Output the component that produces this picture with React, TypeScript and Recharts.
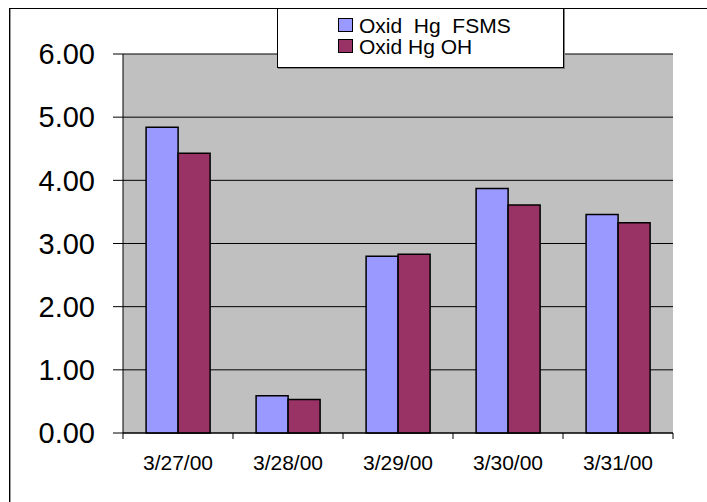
import React from 'react';
import { BarChart, Bar, XAxis, YAxis, CartesianGrid, Legend } from 'recharts';

const dates = ['3/27/00', '3/28/00', '3/29/00', '3/30/00', '3/31/00'];
const fsmsValues = [4.84, 0.59, 2.8, 3.87, 3.46];
const ohValues = [4.43, 0.53, 2.83, 3.61, 3.33];
const yTicks = [0, 1, 2, 3, 4, 5, 6];
const seriesNames = ['Oxid  Hg  FSMS', 'Oxid Hg OH'];
const seriesColors = ['#9999FF', '#993366'];

const data = dates.map((d, i) => ({ date: d, fsms: fsmsValues[i], oh: ohValues[i] }));

const FONT = '"Liberation Sans", Arial, sans-serif';
const X_TICK_MARGIN = 22;

const XTick = (props: any) => {
  const { x, y, payload, index } = props;
  const half = payload && typeof payload.offset === 'number' && payload.offset > 0 ? payload.offset : 55;
  const axisY = y - X_TICK_MARGIN;
  const isLast = index === dates.length - 1;
  return (
    <g>
      <line x1={x - half} x2={x - half} y1={axisY} y2={axisY + 6} stroke="#000" strokeWidth={1} />
      {isLast && <line x1={x + half} x2={x + half} y1={axisY} y2={axisY + 6} stroke="#000" strokeWidth={1} />}
      <text x={x} y={y} dy="0.71em" textAnchor="middle" fontSize={21} fontFamily={FONT} fill="#000">
        {payload.value}
      </text>
    </g>
  );
};

const LegendBox = () => (
  <div
    style={{
      boxSizing: 'border-box',
      width: 287,
      height: 60,
      background: '#fff',
      border: '1px solid #000',
      boxShadow: '1px 1px 0 #808080',
      paddingTop: 5.5,
      paddingLeft: 60,
      fontFamily: FONT,
      fontSize: 21,
      color: '#000',
    }}
  >
    {seriesNames.map((n, i) => (
      <div key={n} style={{ display: 'flex', alignItems: 'center', height: 21, lineHeight: '21px' }}>
        <span
          style={{
            display: 'inline-block',
            boxSizing: 'border-box',
            width: 15,
            height: 14,
            background: seriesColors[i],
            border: '1.5px solid #000',
            marginRight: 6,
          }}
        />
        <span style={{ whiteSpace: 'pre' }}>{n}</span>
      </div>
    ))}
  </div>
);

export default function App() {
  return (
    <div style={{ position: 'absolute', left: 0, top: 0, width: 707, height: 502, overflow: 'hidden', background: '#fff' }}>
      <div
        style={{
          position: 'absolute',
          left: 9,
          top: 8,
          width: 900,
          height: 900,
          borderLeft: '1px solid #000',
          borderTop: '1px solid #000',
          boxShadow: 'inset 1px 0 0 #999',
        }}
      />
      <div style={{ position: 'absolute', left: 0, top: 0 }}>
        <BarChart
          width={707}
          height={502}
          data={data}
          margin={{ top: 54, right: 34, bottom: 29, left: 0 }}
          barCategoryGap="21%"
          barGap={0}
        >
          <CartesianGrid fill="#C0C0C0" stroke="#000" strokeWidth={1} vertical={false} />
          <XAxis
            dataKey="date"
            height={40}
            tickLine={false}
            tickSize={0}
            tickMargin={X_TICK_MARGIN}
            axisLine={{ stroke: '#000', strokeWidth: 1 }}
            tick={<XTick />}
            interval={0}
          />
          <YAxis
            width={123}
            domain={[0, 6]}
            ticks={yTicks}
            interval={0}
            tickFormatter={(v: number) => v.toFixed(2)}
            tickSize={10}
            tickMargin={18}
            tickLine={{ stroke: '#000' }}
            axisLine={{ stroke: '#000' }}
            tick={{ fontSize: 29, fontFamily: FONT, fill: '#000' }}
          />
          <YAxis
            yAxisId="r"
            orientation="right"
            width={0}
            tick={false}
            tickLine={false}
            axisLine={{ stroke: '#808080', strokeWidth: 2 }}
          />
          <Legend
            layout="vertical"
            align="center"
            verticalAlign="middle"
            content={<LegendBox />}
            wrapperStyle={{ position: 'absolute', left: 277, top: 8, width: 287, height: 60 }}
          />
          <Bar dataKey="fsms" name={seriesNames[0]} fill={seriesColors[0]} stroke="#000" strokeWidth={1.5} isAnimationActive={false} />
          <Bar dataKey="oh" name={seriesNames[1]} fill={seriesColors[1]} stroke="#000" strokeWidth={1.5} isAnimationActive={false} />
        </BarChart>
      </div>
    </div>
  );
}
